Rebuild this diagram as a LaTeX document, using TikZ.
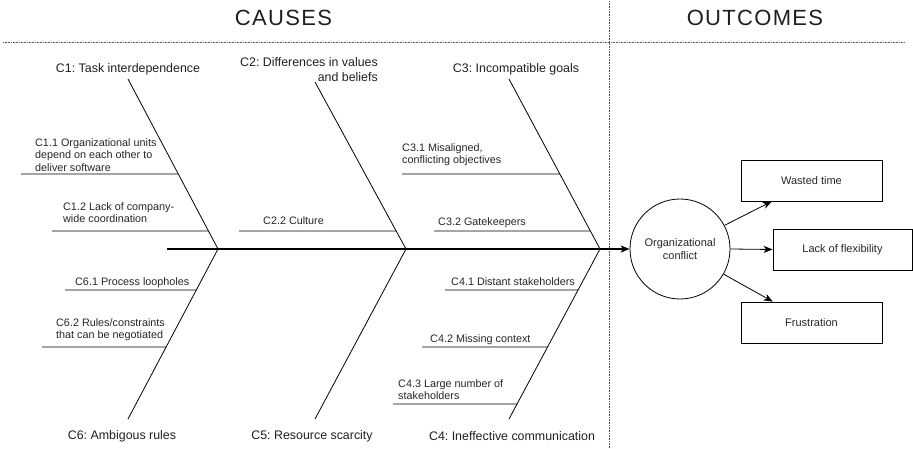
\documentclass[tikz,border=0pt]{standalone}
\usepackage{fontspec}
\setmainfont{Liberation Sans}
\newfontfamily\titlefont[LetterSpace=6]{Liberation Sans}
\usetikzlibrary{arrows.meta,calc}
\frenchspacing
\tikzset{
  sepline/.style={draw=black!65, line width=0.7pt, dash pattern=on 0.8pt off 0.8pt},
  bone/.style={draw, line width=0.8pt},
  spineline/.style={draw, line width=1.7pt},
  tip/.style={-{Stealth[length=9pt,width=7pt,inset=2.5pt]}},
  lbl/.style={font=\frenchspacing\fontsize{12.4}{15}\selectfont, inner sep=0pt, text=black!88},
  sublbl/.style={font=\frenchspacing\fontsize{10.8}{12.5}\selectfont, align=left, anchor=north west, inner sep=0pt, text=black!85},
  title/.style={font=\titlefont\fontsize{22}{24}\selectfont, inner sep=0pt, text=black!88},
  outbox/.style={draw, line width=0.8pt, minimum width=141pt, minimum height=41pt, inner sep=0pt, font=\fontsize{11}{13}\selectfont, text=black!85},
}
\begin{document}
\begin{tikzpicture}[x=1pt, y=-1pt]
\useasboundingbox (0,0) rectangle (913,449);
% titles and separators
\node[title] (causes) at (283.5,18) {CAUSES};
\node[title] (outcomes) at (755,18) {OUTCOMES};
\coordinate (hl) at (3,42);
\coordinate (hr) at (905,42);
\coordinate (vt) at (609.5,1);
\coordinate (vb) at (609.5,449);
\draw[sepline] (hl) -- (hr);
\draw[sepline] (vt) -- (vb);

% effect and outcomes
\node[draw, circle, minimum size=100pt, inner sep=0pt, line width=0.8pt, align=center,
      font=\fontsize{11}{13}\selectfont, text=black!85] (circ) at (680,249) {Organizational\\conflict};
\node[outbox] (wasted) at (811.5,180.5) {Wasted time};
\node[outbox, minimum width=139pt] (lack) at (842.5,249.5) {Lack of flexibility};
\node[outbox] (frus) at (811.5,322.5) {Frustration};
\coordinate (wt) at ($(wasted.south west)!0.22!(wasted.south east)$);
\coordinate (ft) at ($(frus.north west)!0.227!(frus.north east)$);
\draw[line width=0.8pt, tip] (circ.28) -- (wt);
\draw[line width=0.8pt, tip] (circ.east) -- (lack.west);
\draw[line width=0.8pt, tip] (circ.-30) -- (ft);

% spine
\coordinate (s0) at (167,249);
\draw[spineline, tip] (s0) -- (circ.west);

% bone end points
\coordinate (c1t) at (128,79);
\coordinate (c1b) at (218,249);
\coordinate (c2t) at (315,82);
\coordinate (c2b) at (406,249);
\coordinate (c3t) at (509,79);
\coordinate (c3b) at (600,249);
\coordinate (c6b) at (128,419);
\coordinate (c5b) at (315,419);
\coordinate (c4b) at (509,419);
\draw[bone] (c1t) -- (c1b) -- (c6b);
\draw[bone] (c2t) -- (c2b) -- (c5b);
\draw[bone] (c3t) -- (c3b) -- (c4b);

% main labels
\node[lbl] (l1) at (128,69) {C1: Task interdependence};
\node[lbl, align=right] (l2) at (309,70) {C2: Differences in values\\and beliefs};
\node[lbl] (l3) at (516,69) {C3: Incompatible goals};
\node[lbl] (l6) at (122,436) {C6: Ambigous rules};
\node[lbl] (l5) at (312,436) {C5: Resource scarcity};
\node[lbl] (l4) at (512,436) {C4: Ineffective communication};

% sub-cause lines
\coordinate (c11s) at (21,174);
\coordinate (c12s) at (52,231);
\coordinate (c22s) at (239,231);
\coordinate (c31s) at (402,174);
\coordinate (c32s) at (434,231);
\coordinate (c61s) at (65,290);
\coordinate (c62s) at (42,347);
\coordinate (c41s) at (445,290);
\coordinate (c42s) at (422,347);
\coordinate (c43s) at (393,404);
\draw[bone] (c11s) -- ($(c1t)!0.559!(c1b)$);
\draw[bone] (c12s) -- ($(c1t)!0.894!(c1b)$);
\draw[bone] (c22s) -- ($(c2t)!0.892!(c2b)$);
\draw[bone] (c31s) -- ($(c3t)!0.559!(c3b)$);
\draw[bone] (c32s) -- ($(c3t)!0.894!(c3b)$);
\draw[bone] (c61s) -- ($(c1b)!0.241!(c6b)$);
\draw[bone] (c62s) -- ($(c1b)!0.576!(c6b)$);
\draw[bone] (c41s) -- ($(c3b)!0.241!(c4b)$);
\draw[bone] (c42s) -- ($(c3b)!0.576!(c4b)$);
\draw[bone] (c43s) -- ($(c3b)!0.912!(c4b)$);

% sub-cause labels
\node[sublbl] (t11) at (35,138) {C1.1 Organizational units\\depend on each other to\\deliver software};
\node[sublbl] (t12) at (63,202) {C1.2 Lack of company-\\wide coordination};
\node[sublbl] (t22) at (263,216) {C2.2 Culture};
\node[sublbl] (t31) at (402,143) {C3.1 Misaligned,\\conflicting objectives};
\node[sublbl] (t32) at (438,217) {C3.2 Gatekeepers};
\node[sublbl] (t61) at (75,277) {C6.1 Process loopholes};
\node[sublbl] (t62) at (56,318) {C6.2 Rules/constraints\\that can be negotiated};
\node[sublbl] (t41) at (451,277) {C4.1 Distant stakeholders};
\node[sublbl] (t42) at (430,334) {C4.2 Missing context};
\node[sublbl] (t43) at (398,379) {C4.3 Large number of\\stakeholders};
\end{tikzpicture}
\end{document}
